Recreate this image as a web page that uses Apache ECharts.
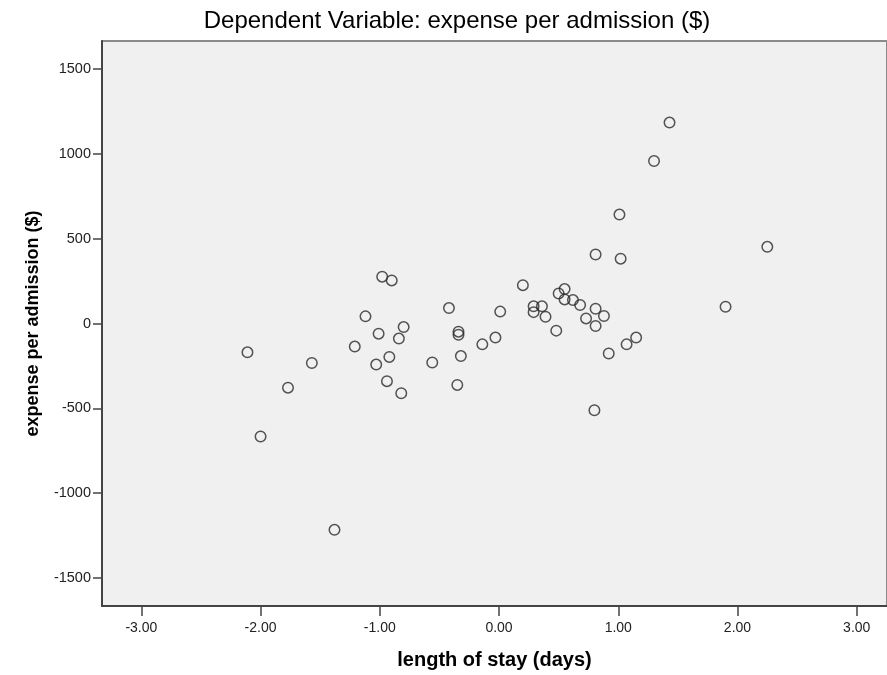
<!DOCTYPE html>
<html>
<head>
<meta charset="utf-8">
<script src="https://cdn.jsdelivr.net/npm/echarts@6/dist/echarts.min.js"></script>
<style>
html,body{margin:0;padding:0;background:#fff;}
#chart{width:887px;height:675px;}
</style>
</head>
<body>
<div id="chart"></div>
<script>
// length of stay (days) – partial residual
const lengthOfStay = [
  -0.98, -0.90, -0.42, -1.12, -0.80, -1.01, -0.84, -1.21, -2.11, -0.92,
  -1.57, -1.03, -0.56, -1.77, -0.94, -0.82, -2.00, 0.81, 1.02, 0.20,
  0.55, 0.50, 0.55, 0.62, 0.68, 0.01, 0.29, 0.36, 0.29, 0.39,
  0.81, 0.73, 0.88, 0.81, 0.48, -0.34, -0.34, -0.03, -0.14, 1.15,
  1.07, 0.92, -0.32, -0.35, 0.80, 1.43, 1.30, 1.01, 2.25, 1.90,
  -1.38
];
// expense per admission ($) – partial residual
const expensePerAdmission = [
  276, 254, 91, 42, -21, -60, -89, -136, -170, -197,
  -233, -242, -230, -378, -340, -411, -666, 407, 382, 226,
  203, 177, 142, 138, 109, 70, 101, 101, 67, 40,
  87, 30, 44, -15, -42, -48, -66, -83, -123, -83,
  -123, -177, -192, -362, -511, 1184, 958, 642, 452, 99,
  -1216
];
const xTicks = [-3, -2, -1, 0, 1, 2, 3];
const yTicks = [-1500, -1000, -500, 0, 500, 1000, 1500];

const points = lengthOfStay.map((x, i) => [x, expensePerAdmission[i]]);

const chart = echarts.init(document.getElementById('chart'));
const font = 'Liberation Sans, Arial, sans-serif';
chart.setOption({
  animation: false,
  backgroundColor: '#ffffff',
  title: {
    text: 'Dependent Variable: expense per admission ($)',
    left: 452,
    textAlign: 'center',
    top: 4,
    textStyle: { fontFamily: font, fontSize: 24, fontWeight: 'normal', color: '#000' }
  },
  grid: {
    left: 102, right: 0, top: 41, bottom: 69,
    show: true, backgroundColor: '#f0f0f0', borderColor: '#8a8a8a', borderWidth: 2
  },
  xAxis: {
    type: 'value', min: -3.33, max: 3.254,
    name: 'length of stay (days)', nameLocation: 'middle', nameGap: 44,
    nameTextStyle: { fontFamily: font, fontSize: 20, fontWeight: 'bold', color: '#000' },
    axisLine: { show: true, onZero: false, lineStyle: { color: '#444', width: 2 } },
    axisTick: { show: true, length: 10, customValues: xTicks, lineStyle: { color: '#444', width: 1.5 } },
    axisLabel: { customValues: xTicks, margin: 15, fontFamily: font, fontSize: 14, color: '#222',
      formatter: v => v.toFixed(2) },
    splitLine: { show: false }
  },
  yAxis: {
    type: 'value', min: -1665, max: 1665,
    name: 'expense per admission ($)', nameLocation: 'middle', nameGap: 60,
    nameTextStyle: { fontFamily: font, fontSize: 18, fontWeight: 'bold', color: '#000' },
    axisLine: { show: true, onZero: false, lineStyle: { color: '#444', width: 2 } },
    axisTick: { show: true, length: 9, customValues: yTicks, lineStyle: { color: '#444', width: 1.5 } },
    axisLabel: { customValues: yTicks, margin: 11, fontFamily: font, fontSize: 14.5, color: '#222',
      formatter: v => String(v) },
    splitLine: { show: false }
  },
  series: [{
    type: 'scatter',
    data: points,
    symbol: 'circle',
    symbolSize: 10.5,
    itemStyle: { color: 'rgba(0,0,0,0)', borderColor: '#2a2a2a', borderWidth: 1.5 }
  }]
});
</script>
</body>
</html>
